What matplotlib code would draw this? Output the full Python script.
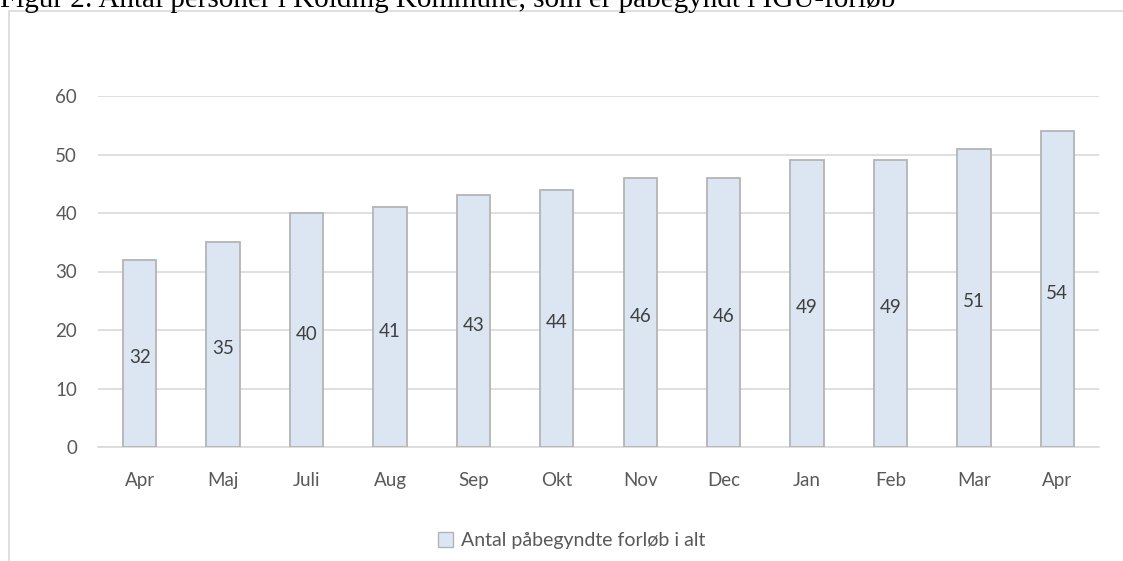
import matplotlib
matplotlib.use("Agg")
import matplotlib.pyplot as plt
from matplotlib.patches import Rectangle, Patch

months = ["Apr", "Maj", "Juli", "Aug", "Sep", "Okt", "Nov", "Dec", "Jan", "Feb", "Mar", "Apr"]
values = [32, 35, 40, 41, 43, 44, 46, 46, 49, 49, 51, 54]
yticks = [0, 10, 20, 30, 40, 50, 60]
title = "Figur 2: Antal personer i Kolding Kommune, som er påbegyndt i IGU-forløb"
legend_label = "Antal påbegyndte forløb i alt"

plt.rcParams['font.family'] = ['Lato', 'DejaVu Sans']

fig = plt.figure(figsize=(11.23, 5.61), dpi=100)

# chart frame, partly outside the picture
fig.patches.append(Rectangle((9 / 1123, -0.2), 1.2, 0.2 + (561 - 10.5) / 561,
                             transform=fig.transFigure, fill=False,
                             edgecolor="#d9d9d9", linewidth=1.2, zorder=0))

fig.text(0.0, 1 - 7 / 561, title, family="Liberation Serif", fontsize=21,
         color="black", ha="left", va="baseline")

ax = fig.add_axes([98 / 1123, (561 - 447) / 561, (1099 - 98) / 1123, (447 - 96) / 561])
x = list(range(len(values)))
ax.bar(x, values, width=0.4, color="#dce6f2", edgecolor="#b4b4b4", linewidth=1.3, zorder=3)

for xi, v in zip(x, values):
    ax.text(xi, v / 2 - 0.7, str(v), ha="center", va="center", fontsize=13.5,
            color="#404040", zorder=4)

ax.set_xlim(-0.5, len(values) - 0.5)
ax.set_ylim(0, 60)
ax.set_yticks(yticks)
ax.set_xticks(x)
ax.set_xticklabels(months)
ax.yaxis.grid(True, color="#d9d9d9", linewidth=1.2, zorder=0)
ax.set_axisbelow(True)
for s in ["top", "right", "left"]:
    ax.spines[s].set_visible(False)
ax.spines["bottom"].set_color("#d9d9d9")
ax.spines["bottom"].set_linewidth(1.2)
ax.tick_params(axis="both", length=0, colors="#595959", labelsize=13.5)
ax.tick_params(axis="y", pad=15)
ax.tick_params(axis="x", pad=18)

handle = Patch(facecolor="#dce6f2", edgecolor="#b4b4b4", linewidth=1.0)
fig.legend([handle], [legend_label], loc="center", bbox_to_anchor=(0.509, 0.037),
           frameon=False, fontsize=14, handlelength=0.8, handleheight=0.8,
           handletextpad=0.4, labelcolor="#595959")

fig.savefig("out.png", dpi=100)
